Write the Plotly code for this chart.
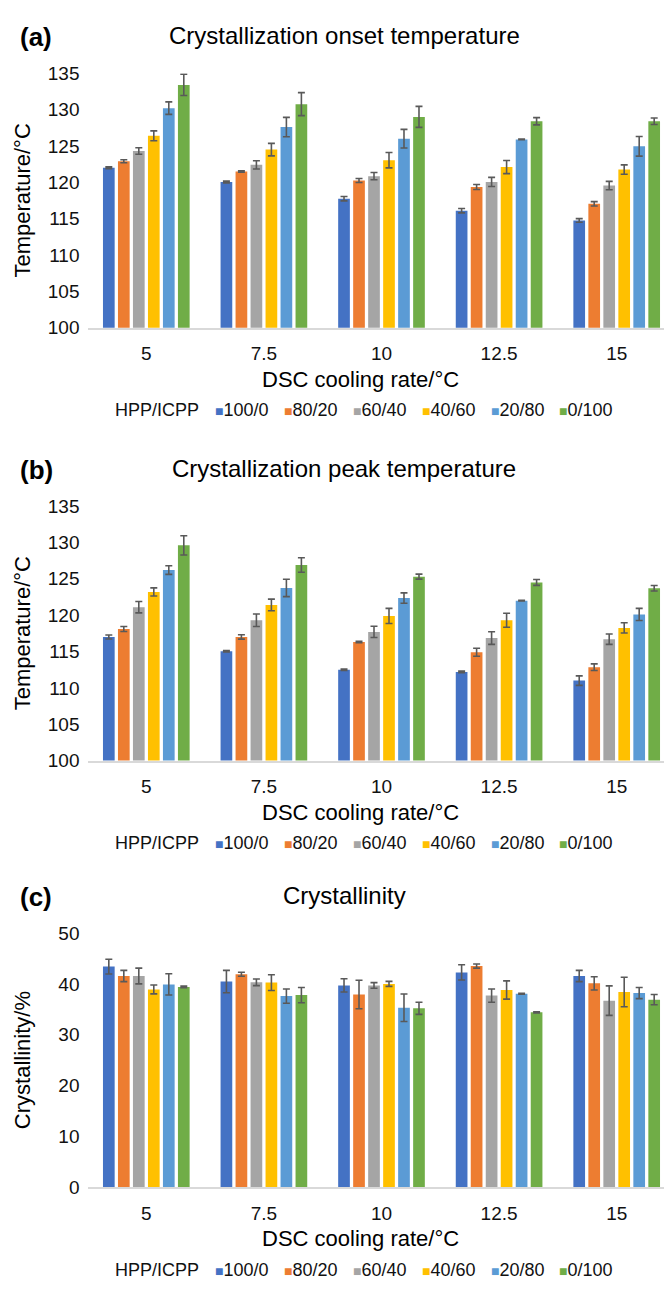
import plotly.graph_objects as go

W, H = 664, 1291

rates = ["5", "7.5", "10", "12.5", "15"]
series = ["100/0", "80/20", "60/40", "40/60", "20/80", "0/100"]
colors = ["#4472C4", "#ED7D31", "#A5A5A5", "#FFC000", "#5B9BD5", "#70AD47"]

# (a) Crystallization onset temperature, rows = series, cols = rates
onset = [
    [122.0, 120.05, 117.75, 116.1, 114.75],
    [122.9, 121.5, 120.25, 119.35, 117.05],
    [124.3, 122.4, 120.85, 120.05, 119.55],
    [126.4, 124.5, 123.05, 122.1, 121.75],
    [130.2, 127.6, 126.0, 125.9, 124.95],
    [133.4, 130.75, 129.0, 128.4, 128.4],
]
onset_err = [
    [0.12, 0.12, 0.3, 0.3, 0.25],
    [0.2, 0.1, 0.27, 0.34, 0.3],
    [0.45, 0.56, 0.5, 0.63, 0.58],
    [0.68, 0.86, 1.06, 0.9, 0.65],
    [0.86, 1.33, 1.28, 0.05, 1.35],
    [1.46, 1.58, 1.44, 0.5, 0.45],
]

# (b) Crystallization peak temperature
peak = [
    [117.0, 115.05, 112.5, 112.2, 111.0],
    [118.1, 117.0, 116.3, 114.9, 112.85],
    [121.1, 119.3, 117.7, 116.85, 116.7],
    [123.2, 121.4, 119.9, 119.3, 118.25],
    [126.2, 123.75, 122.35, 122.0, 120.1],
    [129.6, 126.9, 125.3, 124.5, 123.7],
]
peak_err = [
    [0.27, 0.1, 0.1, 0.1, 0.65],
    [0.34, 0.3, 0.1, 0.54, 0.45],
    [0.79, 0.86, 0.77, 0.86, 0.72],
    [0.56, 0.8, 1.04, 0.97, 0.7],
    [0.59, 1.2, 0.72, 0.05, 0.83],
    [1.33, 1.0, 0.34, 0.4, 0.38],
]

# (c) Crystallinity
cryst = [
    [43.4, 40.45, 39.7, 42.25, 41.55],
    [41.55, 41.9, 37.9, 43.5, 40.1],
    [41.55, 40.3, 39.7, 37.7, 36.7],
    [38.9, 40.25, 40.0, 38.8, 38.4],
    [39.9, 37.6, 35.3, 38.05, 38.2],
    [39.4, 37.8, 35.2, 34.4, 36.9],
]
cryst_err = [
    [1.45, 2.2, 1.3, 1.5, 1.1],
    [1.1, 0.4, 2.8, 0.4, 1.3],
    [1.55, 0.65, 0.55, 1.3, 2.9],
    [0.87, 1.55, 0.5, 1.8, 2.9],
    [2.1, 1.4, 2.7, 0.1, 1.1],
    [0.15, 1.5, 1.2, 0.1, 1.0],
]

panels = [
    dict(tag="(a)", title="Crystallization onset temperature", ytitle="Temperature/°C",
         vals=onset, errs=onset_err, yrange=[100, 135], dtick=5, top=64.3, bottom=323.0),
    dict(tag="(b)", title="Crystallization peak temperature", ytitle="Temperature/°C",
         vals=peak, errs=peak_err, yrange=[100, 135], dtick=5, top=504.3, bottom=763.0),
    dict(tag="(c)", title="Crystallinity", ytitle="Crystallinity/%",
         vals=cryst, errs=cryst_err, yrange=[0, 50], dtick=10, top=938.3, bottom=1196.7),
]

FONT = "Liberation Sans, Arial, Helvetica, sans-serif"
TXT = "#111111"


def py(px):
    return 1 - px / H


def px_x(px):
    return px / W


def ann(text, x, y, size, xanchor="center", angle=0, color=TXT):
    return dict(text=text, x=px_x(x), y=py(y), xref="paper", yref="paper",
                showarrow=False, xanchor=xanchor, yanchor="middle", textangle=angle,
                font=dict(family=FONT, size=size, color=color))


fig = go.Figure()
annotations = []
layout = {}

x_left = 87.5
legend_x = [213, 282, 351, 420, 489, 557]
for p_i, p in enumerate(panels):
    n = "" if p_i == 0 else str(p_i + 1)
    xa, ya = "x" + n, "y" + n
    for s_i, s in enumerate(series):
        fig.add_trace(go.Bar(
            x=rates, y=p["vals"][s_i], name=s, xaxis=xa, yaxis=ya,
            marker=dict(color=colors[s_i], line=dict(width=0)),
            error_y=dict(type="data", array=p["errs"][s_i], color="#595959",
                         thickness=1.6, width=3.5),
            showlegend=False,
        ))
    layout["xaxis" + n] = dict(
        domain=[x_left / W, 1], anchor=ya, type="category",
        range=[-0.5, -0.5 + (W - x_left) / 117.6],
        showline=True, linecolor="#d9d9d9", linewidth=1.5,
        showgrid=False, zeroline=False, ticks="",
        tickfont=dict(family=FONT, size=19, color=TXT),
        ticklabelstandoff=8,
    )
    layout["yaxis" + n] = dict(
        domain=[py(p["bottom"]), py(p["top"])], anchor=xa,
        range=p["yrange"], dtick=p["dtick"], tick0=0,
        showline=False, showgrid=False, zeroline=False, ticks="",
        tickfont=dict(family=FONT, size=19, color=TXT),
        ticklabelstandoff=7,
    )
    top, bottom = p["top"], p["bottom"]
    annotations.append(ann("<b>" + p["tag"] + "</b>", 36, top - 37, 26, color="#000"))
    annotations.append(ann(p["title"], 344, top - 38, 24, color="#000"))
    annotations.append(ann(p["ytitle"], 22, (top + bottom) / 2, 22, angle=-90, color="#000"))
    annotations.append(ann("DSC cooling rate/°C", 360, bottom + 52.5, 22, color="#000"))
    annotations.append(ann("HPP/ICPP", 113, bottom + 84, 18, xanchor="left"))
    for c, s, lx in zip(colors, series, legend_x):
        annotations.append(ann("<span style='color:%s;font-size:14px'>■</span>%s" % (c, s),
                               lx, bottom + 84, 18, xanchor="left"))

fig.update_layout(
    width=W, height=H,
    margin=dict(l=0, r=0, t=0, b=0),
    paper_bgcolor="white", plot_bgcolor="white",
    barmode="group", bargap=0.235, bargroupgap=0.22,
    showlegend=False,
    annotations=annotations,
    **layout,
)

fig.write_html("out.html")
